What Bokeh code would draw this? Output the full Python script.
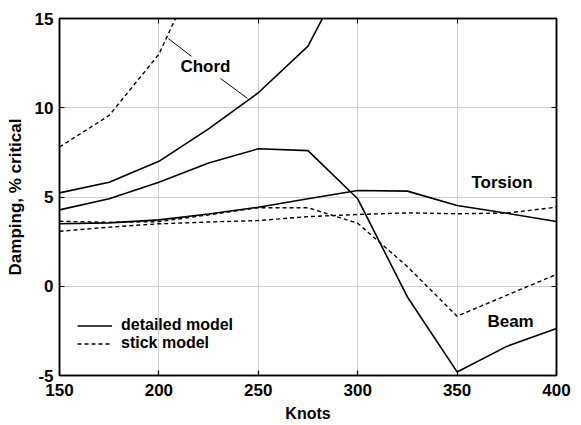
from bokeh.plotting import figure
from bokeh.models import (Range1d, FixedTicker, LinearAxis, Legend, LegendItem,
                          Label, CustomLabelingPolicy)
from bokeh.embed import file_html
from bokeh.resources import INLINE

# ---- data ----
knots = [150, 175, 200, 225, 250, 275, 300, 325, 350, 375, 400]
beam_detailed = [4.28, 4.9, 5.83, 6.91, 7.7, 7.6, 4.9, -0.6, -4.8, -3.37, -2.37]
beam_stick = [3.64, 3.58, 3.62, 4.0, 4.4, 4.4, 3.53, 1.1, -1.68, -0.5, 0.66]
torsion_detailed = [3.5, 3.55, 3.72, 4.05, 4.43, 4.9, 5.36, 5.33, 4.52, 4.09, 3.63]
torsion_stick = [3.08, 3.31, 3.5, 3.6, 3.68, 3.9, 4.02, 4.11, 4.06, 4.1, 4.43]
chord_knots_detailed = [150, 175, 200, 225, 250, 275, 300]
chord_detailed = [5.23, 5.83, 7.0, 8.82, 10.84, 13.45, 18.8]
chord_knots_stick = [150, 175, 200, 225]
chord_stick = [7.8, 9.57, 13.0, 19.0]

x_ticks = [150, 200, 250, 300, 350, 400]
y_ticks = [-5, 0, 5, 10, 15]
y_tick_labels = {-5: "-5", 0: "0", 5: "5", 10: "10", 15: "15"}

FONT = "Liberation Sans"
DASH = "4 3"

p = figure(width=581, height=425, output_backend="svg", toolbar_location=None,
           x_range=Range1d(150, 400), y_range=Range1d(-5, 15),
           min_border_left=59, min_border_right=25, min_border_top=18,
           min_border_bottom=50)
p.background_fill_color = "white"
p.border_fill_color = "white"
p.outline_line_color = "black"
p.outline_line_width = 1.5

# grid
for g in (p.xgrid, p.ygrid):
    g.grid_line_color = "#cfcfcf"
    g.grid_line_width = 1
p.xgrid.ticker = FixedTicker(ticks=x_ticks)
p.ygrid.ticker = FixedTicker(ticks=y_ticks)

# main axes
xa = p.xaxis[0]
ya = p.yaxis[0]
xa.ticker = FixedTicker(ticks=x_ticks)
ya.ticker = FixedTicker(ticks=y_ticks)
ya.major_label_overrides = y_tick_labels
for ax in (xa, ya):
    ax.axis_line_color = "black"
    ax.axis_line_width = 1.5
    ax.major_tick_in = 5
    ax.major_tick_out = 0
    ax.minor_tick_line_color = None
    ax.major_tick_line_color = "black"
    ax.major_tick_line_width = 1.2
    ax.major_label_text_font = FONT
    ax.major_label_text_font_style = "bold"
    ax.major_label_text_font_size = "17px"
    ax.major_label_text_color = "black"
    ax.axis_label_text_font = FONT
    ax.axis_label_text_font_style = "bold"
    ax.axis_label_text_color = "black"
xa.axis_label = "Knots"
ya.axis_label = "Damping, % critical"
xa.axis_label_text_font_size = "16px"
ya.axis_label_text_font_size = "17px"
xa.major_label_standoff = 8
xa.axis_label_standoff = 6
ya.major_label_standoff = 6
ya.axis_label_standoff = 7

# top / right axes with tick marks only (no labels drawn)
no_labels = CustomLabelingPolicy(code="""
    for (const i of Array.from(indices)) { indices.unset(i) }
    return indices
""")
ta = LinearAxis(ticker=FixedTicker(ticks=x_ticks), major_label_text_font_size="0px",
                major_label_policy=no_labels,
                major_label_standoff=0, major_tick_in=5, major_tick_out=0,
                minor_tick_line_color=None, axis_line_color="black", axis_line_width=1.5)
ra = LinearAxis(ticker=FixedTicker(ticks=y_ticks), major_label_text_font_size="0px",
                major_label_policy=no_labels,
                major_label_standoff=0, major_tick_in=5, major_tick_out=0,
                minor_tick_line_color=None, axis_line_color="black", axis_line_width=1.5)
p.add_layout(ta, "above")
p.add_layout(ra, "right")

# lines
r_det = p.line(knots, beam_detailed, line_color="black", line_width=1.6)
p.line(knots, torsion_detailed, line_color="black", line_width=1.6)
p.line(chord_knots_detailed, chord_detailed, line_color="black", line_width=1.6)
r_stk = p.line(knots, beam_stick, line_color="black", line_width=1.4, line_dash=DASH)
p.line(knots, torsion_stick, line_color="black", line_width=1.4, line_dash=DASH)
p.line(chord_knots_stick, chord_stick, line_color="black", line_width=1.4, line_dash=DASH)

# annotations
def lab(x, y, t):
    p.add_layout(Label(x=x, y=y, text=t, text_font=FONT, text_font_style="bold",
                       text_font_size="17px", text_align="center",
                       text_baseline="middle", text_color="black"))

lab(223.4, 12.3, "Chord")
lab(372.6, 5.84, "Torsion")
lab(376.9, -2.0, "Beam")

p.segment(x0=[204.8, 231.0], y0=[13.87, 11.64], x1=[216.4, 244.6], y1=[12.88, 10.52],
          line_color="black", line_width=1)

legend = Legend(items=[LegendItem(label="detailed model", renderers=[r_det]),
                       LegendItem(label="stick model", renderers=[r_stk])],
                location=(18, 23), padding=0, margin=0, spacing=0,
                glyph_width=35, glyph_height=17, label_height=17,
                label_standoff=9, border_line_color=None,
                background_fill_alpha=0,
                label_text_font=FONT, label_text_font_style="bold",
                label_text_font_size="16px", label_text_color="black")
p.add_layout(legend)

open("out.html", "w").write(file_html(p, INLINE))
